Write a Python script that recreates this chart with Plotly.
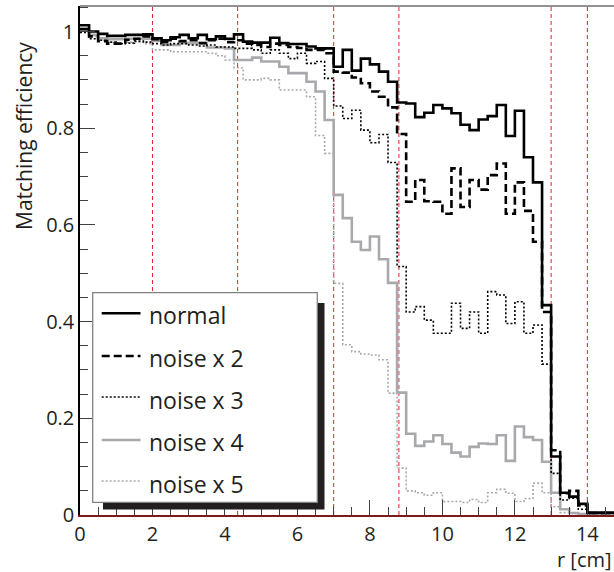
import plotly.graph_objects as go

# ---------------- data ----------------
bin_width = 0.25
n_bins = 60
bin_edges = [round(i * bin_width, 2) for i in range(n_bins + 1)]  # 0 .. 15 cm

normal = [1.013, 1.000, 0.995, 0.991, 0.991, 0.993, 0.993, 0.994, 0.986, 0.982,
          0.988, 0.993, 0.986, 0.993, 0.984, 0.990, 0.985, 0.994, 0.979, 0.977,
          0.977, 0.987, 0.976, 0.974, 0.974, 0.969, 0.965, 0.965, 0.927, 0.962,
          0.919, 0.944, 0.932, 0.917, 0.896, 0.853, 0.851, 0.823, 0.832, 0.848,
          0.841, 0.831, 0.807, 0.796, 0.818, 0.825, 0.848, 0.784, 0.836, 0.740,
          0.688, 0.434, 0.121, 0.046, 0.038, 0.023, 0.005, 0.005, 0.005, 0.005]

noise_x2 = [1.005, 0.990, 0.980, 0.975, 0.975, 0.983, 0.985, 0.990, 0.984, 0.978,
            0.985, 0.980, 0.982, 0.976, 0.982, 0.985, 0.978, 0.982, 0.975, 0.972,
            0.968, 0.975, 0.972, 0.968, 0.966, 0.962, 0.962, 0.955, 0.917, 0.915,
            0.905, 0.893, 0.876, 0.865, 0.843, 0.788, 0.648, 0.693, 0.649, 0.648,
            0.623, 0.717, 0.637, 0.693, 0.673, 0.703, 0.727, 0.623, 0.688, 0.629,
            0.565, 0.420, 0.134, 0.045, 0.050, 0.020, 0.004, 0.004, 0.004, 0.004]

noise_x3 = [0.998, 0.985, 0.982, 0.978, 0.975, 0.976, 0.980, 0.978, 0.975, 0.972,
            0.975, 0.975, 0.972, 0.970, 0.972, 0.968, 0.968, 0.965, 0.965, 0.962,
            0.955, 0.962, 0.955, 0.944, 0.955, 0.934, 0.938, 0.903, 0.846, 0.820,
            0.837, 0.796, 0.770, 0.787, 0.729, 0.514, 0.420, 0.431, 0.403, 0.376,
            0.376, 0.438, 0.386, 0.420, 0.376, 0.462, 0.455, 0.396, 0.441, 0.376,
            0.393, 0.312, 0.086, 0.031, 0.035, 0.012, 0.003, 0.003, 0.003, 0.003]

noise_x4 = [1.005, 0.993, 0.986, 0.984, 0.984, 0.985, 0.985, 0.985, 0.981, 0.972,
            0.972, 0.976, 0.976, 0.976, 0.967, 0.967, 0.965, 0.941, 0.941, 0.946,
            0.938, 0.938, 0.927, 0.914, 0.914, 0.896, 0.876, 0.817, 0.662, 0.614,
            0.565, 0.548, 0.576, 0.529, 0.480, 0.253, 0.168, 0.143, 0.152, 0.165,
            0.147, 0.129, 0.121, 0.141, 0.148, 0.147, 0.165, 0.112, 0.183, 0.161,
            0.155, 0.110, 0.046, 0.012, 0.004, 0.002, 0.002, 0.002, 0.002, 0.002]

noise_x5 = [1.000, 0.990, 0.982, 0.978, 0.975, 0.978, 0.978, 0.975, 0.962, 0.962,
            0.958, 0.958, 0.958, 0.958, 0.955, 0.950, 0.941, 0.925, 0.900, 0.900,
            0.903, 0.900, 0.879, 0.879, 0.879, 0.865, 0.785, 0.748, 0.479, 0.352,
            0.338, 0.333, 0.331, 0.321, 0.252, 0.097, 0.050, 0.046, 0.041, 0.046,
            0.028, 0.028, 0.026, 0.032, 0.026, 0.046, 0.053, 0.045, 0.028, 0.034,
            0.066, 0.046, 0.017, 0.005, 0.003, 0.002, 0.002, 0.002, 0.002, 0.002]

series_names = ["normal", "noise x 2", "noise x 3", "noise x 4", "noise x 5"]
boundaries = [2.0, 4.35, 7.0, 8.8, 13.0, 14.0]   # vertical dashed red lines [cm]
x_ticks = [0, 2, 4, 6, 8, 10, 12, 14]
y_ticks = [0, 0.2, 0.4, 0.6, 0.8, 1]
y_tick_text = ["0", "0.2", "0.4", "0.6", "0.8", "1"]

# ---------------- styles ----------------
FONT = "Open Sans"
TXT = "#231f20"
GRAY = "#a7a9ac"
styles = {
    "normal":    dict(color="black", width=2.6, dash="solid"),
    "noise x 2": dict(color="black", width=2.6, dash="8px,4px"),
    "noise x 3": dict(color="black", width=1.6, dash="2px,2px"),
    "noise x 4": dict(color=GRAY, width=2.6, dash="solid"),
    "noise x 5": dict(color=GRAY, width=1.6, dash="2px,2px"),
}
data = {"normal": normal, "noise x 2": noise_x2, "noise x 3": noise_x3,
        "noise x 4": noise_x4, "noise x 5": noise_x5}

W, H = 614, 572
L, R, T, B = 80, 0, 6, 57
PW, PH = W - L - R, H - T - B

def px(xp):
    return (xp - L) / PW

def py(yp):
    return (H - B - yp) / PH

fig = go.Figure()

# draw gray first, black on top
for name in ["noise x 5", "noise x 4", "noise x 3", "noise x 2", "normal"]:
    vals = data[name]
    fig.add_trace(go.Scatter(
        x=bin_edges, y=vals + [vals[-1]], mode="lines", line_shape="hv",
        line=styles[name], name=name, showlegend=False, hoverinfo="skip"))

shapes = []
for b in boundaries:
    shapes.append(dict(type="line", xref="x", yref="paper", x0=b, x1=b, y0=0, y1=1,
                       line=dict(color="#e8202a", width=1, dash="4px,3px"), layer="below"))
# top frame line
shapes.append(dict(type="line", xref="paper", yref="paper", x0=0, x1=1, y0=1, y1=1,
                   line=dict(color="#6d6e71", width=1.5)))

# legend box with shadow
shapes.append(dict(type="rect", xref="paper", yref="paper",
                   x0=px(103), x1=px(324.5), y0=py(509.5), y1=py(303),
                   fillcolor=TXT, line=dict(width=0), layer="above"))
shapes.append(dict(type="rect", xref="paper", yref="paper",
                   x0=px(92.7), x1=px(317.3), y0=py(502.3), y1=py(292.7),
                   fillcolor="white", line=dict(color="#808285", width=1.3), layer="above"))

annotations = []
row_line_y = [313.3, 356.0, 397.0, 440.0, 481.0]
row_text_y = [315.0, 357.5, 399.5, 442.0, 484.0]
for i, name in enumerate(series_names):
    st = styles[name]
    shapes.append(dict(type="line", xref="paper", yref="paper",
                       x0=px(101.7), x1=px(140.5), y0=py(row_line_y[i]), y1=py(row_line_y[i]),
                       line=dict(color=st["color"], width=st["width"], dash=st["dash"]),
                       layer="above"))
    annotations.append(dict(xref="paper", yref="paper", x=px(147), y=py(row_text_y[i]),
                            text=name, showarrow=False, xanchor="left", yanchor="middle",
                            font=dict(family=FONT, size=23, color=TXT)))

annotations.append(dict(xref="paper", yref="paper", x=px(24), y=py(40),
                        text="Matching efficiency", textangle=-90, showarrow=False,
                        xanchor="center", yanchor="top",
                        font=dict(family=FONT, size=21, color=TXT)))
annotations.append(dict(xref="paper", yref="paper", x=px(614), y=py(559),
                        text="r [cm]", showarrow=False, xanchor="right", yanchor="middle",
                        font=dict(family=FONT, size=20, color=TXT)))

fig.update_layout(
    width=W, height=H, margin=dict(l=L, r=R, t=T, b=B, pad=0),
    paper_bgcolor="white", plot_bgcolor="white",
    shapes=shapes, annotations=annotations, showlegend=False,
    font=dict(family=FONT, color=TXT),
)
fig.update_xaxes(range=[0, 534 / 36.24], showgrid=False, zeroline=False,
                 showline=True, linecolor="#7a1a1a", linewidth=1.5,
                 ticks="inside", ticklen=15, tickwidth=1.2, tickcolor="#414042",
                 tickvals=x_ticks, ticktext=[str(v) for v in x_ticks],
                 tickfont=dict(family=FONT, size=20, color=TXT),
                 minor=dict(ticks="inside", ticklen=8, dtick=0.5, tick0=0,
                            tickcolor="#414042", tickwidth=1.2, showgrid=False))
fig.update_yaxes(range=[0, 509 / 483.5], showgrid=False, zeroline=False,
                 showline=True, linecolor="black", linewidth=1.5,
                 ticks="inside", ticklen=15, tickwidth=1.2, tickcolor="#414042",
                 tickvals=y_ticks, ticktext=y_tick_text,
                 tickfont=dict(family=FONT, size=20, color=TXT),
                 minor=dict(ticks="inside", ticklen=8, dtick=0.05, tick0=0,
                            tickcolor="#414042", tickwidth=1.2, showgrid=False))

fig.write_html("out.html", config={"displayModeBar": False},
               post_script="document.body.style.margin='0px';")
